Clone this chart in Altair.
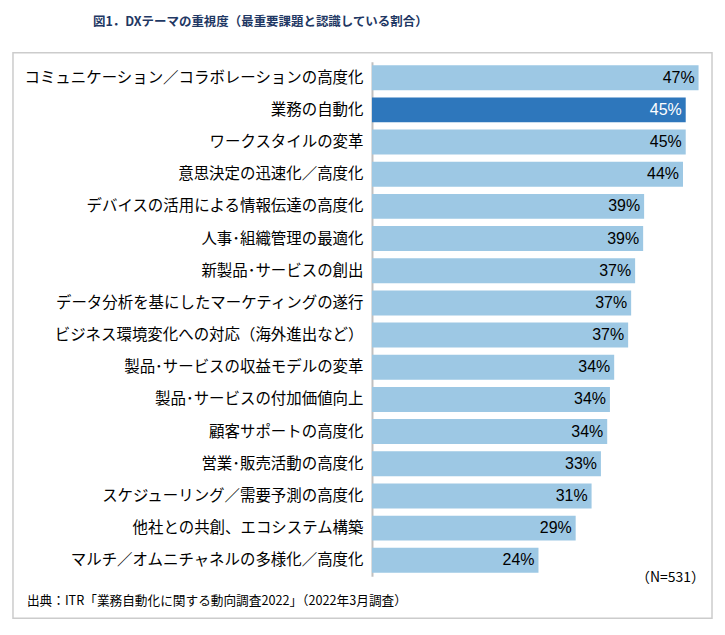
import altair as alt
import pandas as pd

categories = [
    "コミュニケーション／コラボレーションの高度化",
    "業務の自動化",
    "ワークスタイルの変革",
    "意思決定の迅速化／高度化",
    "デバイスの活用による情報伝達の高度化",
    "人事･組織管理の最適化",
    "新製品･サービスの創出",
    "データ分析を基にしたマーケティングの遂行",
    "ビジネス環境変化への対応（海外進出など）",
    "製品･サービスの収益モデルの変革",
    "製品･サービスの付加価値向上",
    "顧客サポートの高度化",
    "営業･販売活動の高度化",
    "スケジューリング／需要予測の高度化",
    "他社との共創、エコシステム構築",
    "マルチ／オムニチャネルの多様化／高度化",
]
values = [46.8, 44.96, 44.96, 44.57, 39.0, 38.86, 37.71, 37.14, 36.71,
          34.71, 34.1, 33.71, 32.81, 31.47, 29.19, 23.86]
value_labels = ["47%", "45%", "45%", "44%", "39%", "39%", "37%", "37%", "37%",
                "34%", "34%", "34%", "33%", "31%", "29%", "24%"]
highlight = ["業務の自動化"]

title_text = "図1．DXテーマの重視度（最重要課題と認識している割合）"
source_text = "出典：ITR「業務自動化に関する動向調査2022」（2022年3月調査）"
n_text = "（N=531）"

df = pd.DataFrame({
    "cat": categories,
    "val": values,
    "lab": value_labels,
    "hl": ["yes" if c in highlight else "no" for c in categories],
})
one = pd.DataFrame({"a": [0]})

JP = "Noto Sans CJK JP"

base = alt.Chart(df).encode(
    y=alt.Y("cat:N", sort=categories,
            scale=alt.Scale(paddingInner=0.225, paddingOuter=0.11),
            axis=alt.Axis(title=None, labelFont=JP, labelFontSize=15.5,
                          labelColor="#000000", ticks=False,
                          domainColor="#c0c0c0", domainWidth=2,
                          labelPadding=9, labelLimit=500, grid=False)),
    x=alt.X("val:Q", scale=alt.Scale(domain=[0, 48.3], nice=False), axis=None),
)

bars = base.mark_bar().encode(
    color=alt.condition(alt.datum.hl == "yes", alt.value("#2e77bc"),
                        alt.value("#9dc8e4"))
)

texts = base.mark_text(align="right", baseline="middle", dx=-4,
                       font="Liberation Sans", fontSize=16).encode(
    text="lab:N",
    color=alt.condition(alt.datum.hl == "yes", alt.value("#ffffff"),
                        alt.value("#000000")),
)

frame = alt.Chart(one).mark_rect(fill=None, stroke="#cccccc", strokeWidth=1.5).encode(
    x=alt.value(-360), x2=alt.value(341), y=alt.value(-9), y2=alt.value(558)
)

title = alt.Chart(one).mark_text(font=JP, fontSize=12.5, fontWeight="bold",
                                 color="#1f3864", align="center",
                                 baseline="middle").encode(
    x=alt.value(-112), y=alt.value(-40), text=alt.value(title_text)
)

source = alt.Chart(one).mark_text(font=JP, fontSize=12.7, color="#000000",
                                  align="left", baseline="middle").encode(
    x=alt.value(-346), y=alt.value(541), text=alt.value(source_text)
)

nlab = alt.Chart(one).mark_text(font=JP, fontSize=14, color="#000000",
                                align="right", baseline="middle").encode(
    x=alt.value(334), y=alt.value(518), text=alt.value(n_text)
)

chart = alt.layer(frame, bars, texts, title, source, nlab).properties(
    width=338, height=516,
    autosize=alt.AutoSizeParams(type="none"),
    padding={"left": 365, "top": 53, "right": 8, "bottom": 50},
    background="white",
).configure_view(stroke=None)

chart.save("out.html", embed_options={"renderer": "svg", "actions": False})
